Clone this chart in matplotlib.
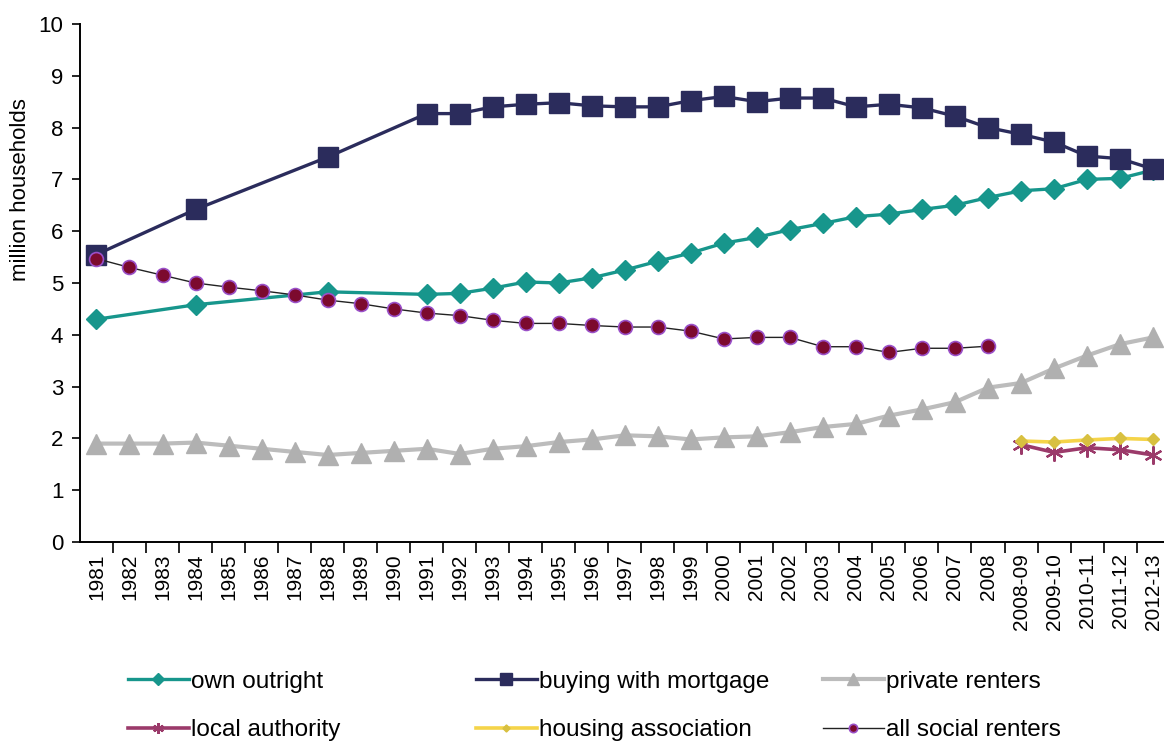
import numpy as np
import matplotlib
matplotlib.use("Agg")
from matplotlib import pyplot as plt

years = [str(y) for y in range(1981, 2009)] + ["2008-09", "2009-10", "2010-11", "2011-12", "2012-13"]
N = None

own_outright = [4.30, N, N, 4.58, N, N, N, 4.83, N, N, 4.78, 4.80, 4.90, 5.02, 5.00, 5.10, 5.25,
                5.42, 5.58, 5.77, 5.88, 6.03, 6.15, 6.28, 6.33, 6.42, 6.50, 6.65,
                6.78, 6.82, 7.00, 7.02, 7.18]
mortgage = [5.55, N, N, 6.42, N, N, N, 7.43, N, N, 8.27, 8.27, 8.40, 8.45, 8.48, 8.42, 8.40,
            8.40, 8.52, 8.60, 8.50, 8.57, 8.57, 8.40, 8.45, 8.38, 8.22, 8.00,
            7.87, 7.72, 7.45, 7.40, 7.20]
private_renters = [1.90, 1.90, 1.90, 1.92, 1.86, 1.80, 1.74, 1.68, 1.72, 1.76, 1.80, 1.70, 1.80,
                   1.85, 1.93, 1.98, 2.06, 2.04, 1.98, 2.02, 2.04, 2.12, 2.22, 2.28, 2.44,
                   2.56, 2.70, 2.98, 3.07, 3.35, 3.60, 3.82, 3.95]
local_authority = [N] * 28 + [1.88, 1.73, 1.82, 1.78, 1.68]
housing_assoc = [N] * 28 + [1.95, 1.93, 1.97, 2.00, 1.98]
social_renters = [5.47, 5.30, 5.15, 5.00, 4.92, 4.85, 4.77, 4.67, 4.60, 4.50, 4.42, 4.37, 4.28,
                  4.22, 4.22, 4.18, 4.15, 4.15, 4.07, 3.92, 3.95, 3.95, 3.77, 3.77, 3.66,
                  3.74, 3.74, 3.78] + [N] * 5


def pts(vals):
    xs = [i for i, v in enumerate(vals) if v is not None]
    ys = [v for v in vals if v is not None]
    return xs, ys


plt.rcParams['font.family'] = ['Liberation Sans', 'DejaVu Sans']
fig = plt.figure(figsize=(11.64, 7.42), dpi=100)
ax = fig.add_axes([0.0687, 0.2695, 0.9313, 0.6982])

asterisk = (6, 2, 0)
series = [
    (own_outright, "own outright", dict(color="#17968c", lw=2.4, marker="D", ms=10,
                                        mfc="#17968c", mec="#17968c")),
    (mortgage, "buying with mortgage", dict(color="#2b2c5c", lw=2.4, marker="s", ms=14,
                                            mfc="#2b2c5c", mec="#2b2c5c")),
    (private_renters, "private renters", dict(color="#bcbcbc", lw=3.0, marker="^", ms=14,
                                              mfc="#b0b0b0", mec="#b0b0b0")),
    (local_authority, "local authority", dict(color="#9b3a6a", lw=2.6, marker=asterisk, ms=13,
                                              mfc="#9b3a6a", mec="#9b3a6a", mew=1.6)),
    (housing_assoc, "housing association", dict(color="#f5d449", lw=2.6, marker="D", ms=6,
                                                mfc="#d8c040", mec="#d8c040")),
    (social_renters, "all social renters", dict(color="#222222", lw=1.0, marker="o", ms=10,
                                                mfc="#7c0a2e", mec="#9a50c8", mew=1.2)),
]

handles = []
for vals, label, style in series:
    xs, ys = pts(vals)
    h, = ax.plot(xs, ys, label=label, **style)
    handles.append(h)

ax.set_ylim(0, 10)
ax.set_yticks(range(0, 11))
ax.set_xlim(-0.5, 32.33)
ax.set_xticks(range(len(years)))
ax.set_xticklabels(years, rotation=90, fontsize=15)
ax.set_xticks(np.arange(0.5, len(years) - 1, 1.0), minor=True)
ax.tick_params(axis='x', which='major', length=0, pad=8)
ax.tick_params(axis='x', which='minor', length=8, width=1.2, direction='out')
ax.tick_params(axis='y', labelsize=16, length=6, width=1.2, pad=6)
for s in ['top', 'right']:
    ax.spines[s].set_visible(False)
for s in ['left', 'bottom']:
    ax.spines[s].set_linewidth(1.4)

ax.set_ylabel("million households", fontsize=16)
ax.yaxis.set_label_coords(-0.045, 0.68)

# legend: one entry per slot, 3 columns x 2 rows under the axis
col_x = [0.110, 0.409, 0.707]
row_y = [0.081, 0.016]
for i, h in enumerate(handles):
    c, r = i % 3, i // 3
    fig.legend([h], [h.get_label()], loc='center left', bbox_to_anchor=(col_x[c], row_y[r]),
               frameon=False, fontsize=17.5, handlelength=2.5, handletextpad=0.1,
               markerscale=0.6, borderaxespad=0, borderpad=0)

fig.savefig("out.png", dpi=100)
